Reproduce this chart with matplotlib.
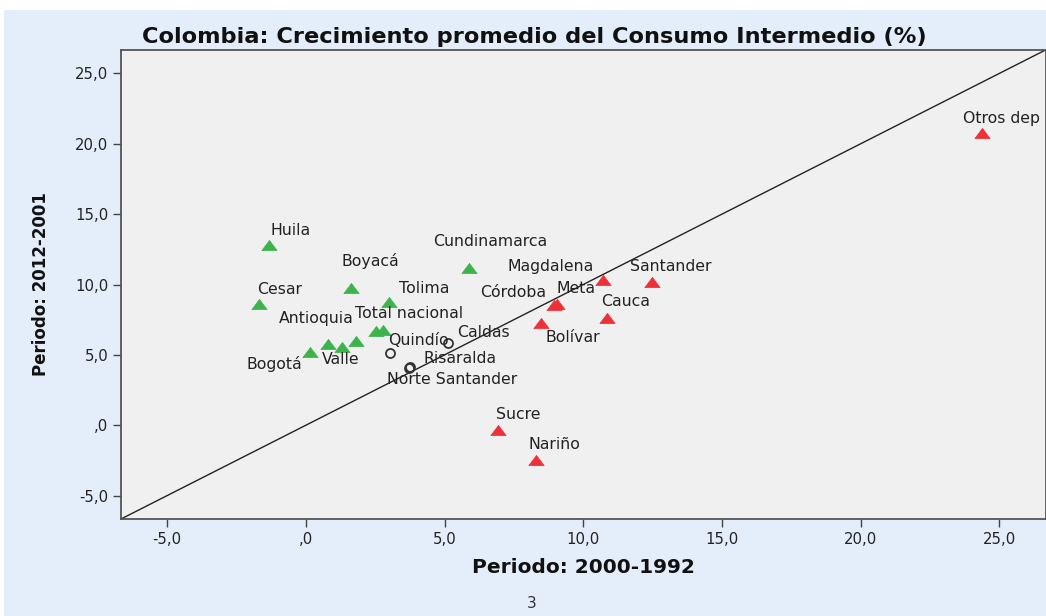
import matplotlib
matplotlib.use("Agg")
import matplotlib.pyplot as plt
from matplotlib.patches import Rectangle
from matplotlib.ticker import FixedLocator, FuncFormatter

# Average growth of intermediate consumption (%), by department
# x: period 2000-1992, y: period 2012-2001
up_names = ["Huila", "Cesar", "Boyacá", "Tolima", "Cundinamarca", "Bogotá",
            "Antioquia", "Valle", "", "", "Total nacional"]
up_x = [-1.33, -1.69, 1.61, 3.00, 5.87, 0.14, 0.80, 1.29, 1.80, 2.52, 2.79]
up_y = [12.78, 8.59, 9.73, 8.73, 11.15, 5.20, 5.77, 5.55, 6.00, 6.71, 6.76]

mid_names = ["Quindío", "Caldas", "Risaralda", "Norte Santander"]
mid_x = [3.03, 5.13, 3.77, 3.73]
mid_y = [5.10, 5.82, 4.13, 4.09]

down_names = ["Magdalena", "Santander", "Córdoba", "Meta", "Cauca", "Bolívar",
              "Sucre", "Nariño", "Otros dep"]
down_x = [10.71, 12.48, 8.95, 9.05, 10.84, 8.47, 6.93, 8.28, 24.39]
down_y = [10.34, 10.18, 8.53, 8.59, 7.62, 7.26, -0.31, -2.49, 20.76]

ticks = [-5, 0, 5, 10, 15, 20, 25]
lims = (-6.67, 26.67)

# label offsets in pixels (dx right, dy up)
up_off = [(21, 15), (21, 15), (20, 27), (35, 14), (21, 27), (-36, -12),
          (-12, 26), (-1, -12), (0, 0), (0, 0), (26, 17)]
mid_off = [(28, 13), (35, 11), (50, 9), (43, -12)]
down_off = [(-52, 13), (19, 15), (-41, 13), (19, 16), (19, 16), (32, -14),
            (20, 15), (19, 16), (19, 15)]

DPI = 100
fig = plt.figure(figsize=(10.46, 6.16), dpi=DPI, facecolor="white")
fig.patches.append(Rectangle((4 / 1046, 0), 1, 606 / 616, transform=fig.transFigure,
                             facecolor="#e3eefa", edgecolor="none", zorder=-10))

ax = fig.add_axes([121 / 1046, 97 / 616, 924.5 / 1046, 469 / 616])
ax.set_facecolor("#f0f0f0")
ax.set_xlim(*lims)
ax.set_ylim(*lims)

ax.axline((0, 0), slope=1, color="#222222", lw=1.0, zorder=2)

tri = [(-1.5, -1.0), (1.5, -1.0), (0.0, 1.0), (-1.5, -1.0)]
ax.plot(up_x, up_y, linestyle="none", marker=tri, markersize=11,
        markerfacecolor="#3cb44b", markeredgecolor="#3cb44b", markeredgewidth=0.5, zorder=4)
ax.plot(down_x, down_y, linestyle="none", marker=tri, markersize=11,
        markerfacecolor="#ee3038", markeredgecolor="#ee3038", markeredgewidth=0.5, zorder=4)
ax.plot(mid_x, mid_y, linestyle="none", marker="o", markersize=6.5,
        markerfacecolor="none", markeredgecolor="#333333", markeredgewidth=1.3, zorder=4)

px2pt = 72 / DPI
for names, xs, ys, offs in ((up_names, up_x, up_y, up_off),
                            (mid_names, mid_x, mid_y, mid_off),
                            (down_names, down_x, down_y, down_off)):
    for n, x, y, (dx, dy) in zip(names, xs, ys, offs):
        if not n:
            continue
        ax.annotate(n, (x, y), xytext=(dx * px2pt, dy * px2pt), textcoords="offset points",
                    ha="center", va="center", fontsize=11.3, color="#222222",
                    family="DejaVu Sans", zorder=5)

def fmt(v, pos):
    s = f"{v:.1f}".replace(".", ",")
    if s.startswith("0,"):
        s = s[1:]
    return s

for axis in (ax.xaxis, ax.yaxis):
    axis.set_major_locator(FixedLocator(ticks))
    axis.set_major_formatter(FuncFormatter(fmt))
ax.tick_params(direction="out", length=6, width=1, color="#444444",
               labelsize=10.7, labelcolor="#222222", pad=3)

for s in ax.spines.values():
    s.set_color("#555555")
    s.set_linewidth(1.3)

ax.set_xlabel("Periodo: 2000-1992", fontsize=14.5, fontweight="bold", color="#111111",
              labelpad=8)
ax.set_ylabel("Periodo: 2012-2001", fontsize=12, fontweight="bold", color="#111111",
              labelpad=18)
fig.text(534 / 1046, 1 - 37 / 616, "Colombia: Crecimiento promedio del Consumo Intermedio (%)",
         ha="center", va="center", fontsize=16.2, fontweight="bold", color="#111111")

fig.text(532 / 1046, 1 - 603 / 616, "3", ha="center", va="center", fontsize=11, color="#333333")

fig.savefig("out.png", dpi=DPI, facecolor=fig.get_facecolor())
